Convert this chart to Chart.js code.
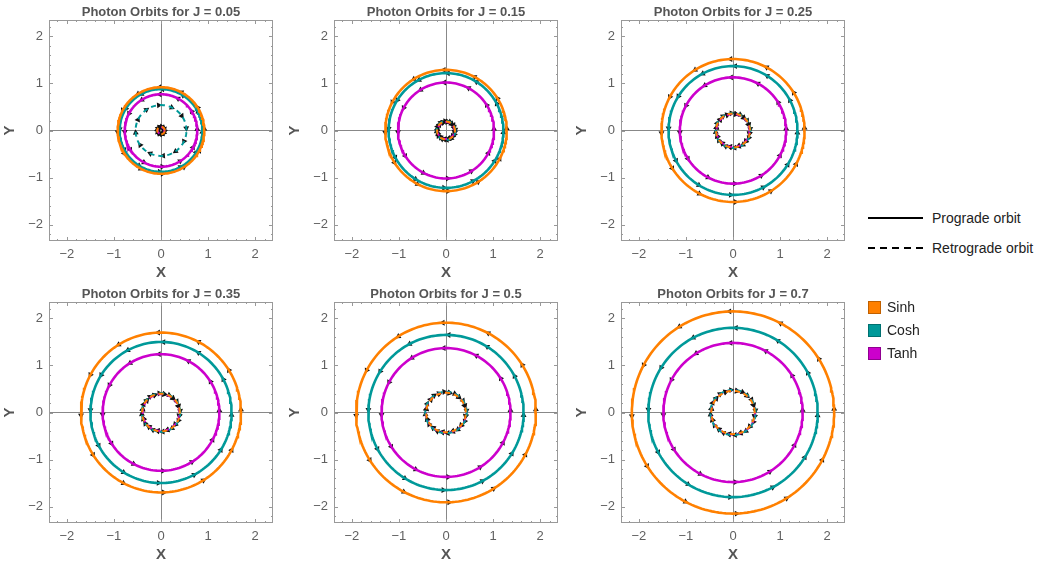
<!DOCTYPE html>
<html>
<head>
<meta charset="utf-8">
<script src="https://cdn.jsdelivr.net/npm/chart.js@4.4.0/dist/chart.umd.min.js"></script>
<style>
body { margin: 0; background: #fff; width: 1042px; height: 571px; position: relative; overflow: hidden; font-family: "Liberation Sans", Arial, sans-serif; }
canvas { position: absolute; }
.leg { position: absolute; font-size: 14px; color: #222; line-height: 16px; }
.sw { position: absolute; width: 11px; height: 11px; }
</style>
</head>
<body>
<canvas id="c0" width="280" height="283" style="left:0px;top:0px"></canvas>
<canvas id="c1" width="280" height="283" style="left:285px;top:0px"></canvas>
<canvas id="c2" width="280" height="283" style="left:572px;top:0px"></canvas>
<canvas id="c3" width="280" height="283" style="left:0px;top:282px"></canvas>
<canvas id="c4" width="280" height="283" style="left:285px;top:282px"></canvas>
<canvas id="c5" width="280" height="283" style="left:572px;top:282px"></canvas>

<svg style="position:absolute;left:868px;top:210px" width="60" height="50">
  <line x1="0" y1="8" x2="55" y2="8" stroke="#000" stroke-width="2"/>
  <line x1="0" y1="38" x2="55" y2="38" stroke="#000" stroke-width="2" stroke-dasharray="7,5"/>
</svg>
<div class="leg" style="left:932px;top:210px">Prograde orbit</div>
<div class="leg" style="left:932px;top:240px">Retrograde orbit</div>
<div class="sw" style="left:868px;top:301px;background:#ff8000;border:1px solid #c06000"></div>
<div class="sw" style="left:868px;top:324px;background:#009999;border:1px solid #007070"></div>
<div class="sw" style="left:868px;top:347px;background:#cc00cc;border:1px solid #900090"></div>
<div class="leg" style="left:887px;top:299px">Sinh</div>
<div class="leg" style="left:887px;top:322px">Cosh</div>
<div class="leg" style="left:887px;top:345px">Tanh</div>

<script>
// orbit radii
const jValues = [0.05, 0.15, 0.25, 0.35, 0.5, 0.7];
const sinhPro = [0.92, 1.29, 1.52, 1.70, 1.91, 2.15];
const coshPro = [0.88, 1.22, 1.37, 1.50, 1.65, 1.80];
const tanhPro = [0.77, 1.02, 1.13, 1.24, 1.37, 1.48];
const sinhRetro = [0.08, 0.19, 0.36, 0.40, 0.42, 0.46];
const coshRetro = [0.54, 0.20, 0.37, 0.41, 0.44, 0.48];
const tanhRetro = [0.07, 0.18, 0.35, 0.39, 0.43, 0.47];
const tickValues = [-2, -1, 0, 1, 2];

const ORANGE = '#ff8000', TEAL = '#009999', MAGENTA = '#cc00cc';
const GRAY = '#555';

function circle(r) {
    const pts = [];
    for (let i = 0; i <= 180; i++) {
        const t = i / 180 * 2 * Math.PI;
        pts.push({x: r * Math.cos(t), y: r * Math.sin(t)});
    }
    return pts;
}

// little direction markers along an orbit
function arrowSet(r, prograde, offset) {
    const pts = [], rot = [];
    for (let k = 0; k < 12; k++) {
        const deg = offset + k * 30;
        const t = deg * Math.PI / 180;
        pts.push({x: r * Math.cos(t), y: r * Math.sin(t)});
        rot.push(prograde ? -deg : 180 - deg);
    }
    return {
        data: pts,
        showLine: false,
        pointStyle: 'triangle',
        pointRadius: 3.4,
        pointRotation: rot,
        backgroundColor: '#111',
        borderColor: '#111',
        borderWidth: 0
    };
}

function orbit(r, color, dashed) {
    return {
        data: circle(r),
        showLine: true,
        borderColor: color,
        borderWidth: dashed ? 2 : 2.6,
        borderDash: dashed ? [5, 4] : [],
        pointRadius: 0,
        fill: false
    };
}

const framePlugin = {
    id: 'frame',
    afterDraw(chart) {
        const ctx = chart.ctx;
        const a = chart.chartArea;
        const xs = chart.scales.x, ys = chart.scales.y;
        ctx.save();
        ctx.strokeStyle = '#999';
        ctx.lineWidth = 1;
        ctx.strokeRect(a.left + 0.5, a.top + 0.5, a.right - a.left - 1, a.bottom - a.top - 1);
        ctx.beginPath();
        for (let k = -11; k <= 11; k++) {
            const v = k * 0.2;
            const len = k % 5 === 0 ? 4 : 2;
            const px = Math.round(xs.getPixelForValue(v)) + 0.5;
            ctx.moveTo(px, a.bottom); ctx.lineTo(px, a.bottom - len);
            ctx.moveTo(px, a.top); ctx.lineTo(px, a.top + len);
            const py = Math.round(ys.getPixelForValue(v)) + 0.5;
            ctx.moveTo(a.left, py); ctx.lineTo(a.left + len, py);
            ctx.moveTo(a.right, py); ctx.lineTo(a.right - len, py);
        }
        ctx.stroke();
        ctx.fillStyle = GRAY;
        ctx.font = 'bold 13px "Liberation Sans", Arial, sans-serif';
        ctx.textAlign = 'center';
        ctx.textBaseline = 'middle';
        ctx.fillText(chart.options.plugins.frame.text, (a.left + a.right) / 2, 12);
        ctx.restore();
    }
};

function axis(min, max, title, fitKey, fitSize, titlePad) {
    return {
        type: 'linear',
        min: min,
        max: max,
        afterBuildTicks: s => { s.ticks = tickValues.map(v => ({value: v})); },
        afterFit: s => { s[fitKey] = fitSize; },
        grid: {
            drawTicks: false,
            color: c => (c.tick && c.tick.value === 0) ? '#888' : 'rgba(0,0,0,0)',
            lineWidth: 1
        },
        border: {display: false},
        ticks: {
            padding: 6,
            color: '#606060',
            font: {family: '"Liberation Sans", Arial, sans-serif', size: 13},
            callback: v => String(v).replace('-', '\u2212')
        },
        title: {
            display: true,
            text: title,
            color: GRAY,
            padding: titlePad,
            font: {family: '"Liberation Sans", Arial, sans-serif', size: 15, weight: 'bold', lineHeight: 1}
        }
    };
}

jValues.forEach((j, i) => {
    const datasets = [
        orbit(sinhPro[i], ORANGE, false),
        orbit(coshPro[i], TEAL, false),
        orbit(tanhPro[i], MAGENTA, false),
        orbit(sinhRetro[i], ORANGE, true),
        orbit(coshRetro[i], TEAL, true),
        orbit(tanhRetro[i], MAGENTA, true),
        arrowSet(sinhPro[i], true, 92),
        arrowSet(coshPro[i], true, 88),
        arrowSet(tanhPro[i], true, 92),
        arrowSet(sinhRetro[i], false, 80),
        arrowSet(coshRetro[i], false, 95),
        arrowSet(tanhRetro[i], false, 110)
    ];
    new Chart(document.getElementById('c' + i), {
        type: 'scatter',
        data: {datasets: datasets},
        options: {
            responsive: false,
            animation: false,
            layout: {padding: {top: 20, right: 7, left: 0, bottom: 0}},
            plugins: {
                legend: {display: false},
                tooltip: {enabled: false},
                frame: {text: 'Photon Orbits for J = ' + j}
            },
            scales: {
                x: axis(-2.38, 2.38, 'X', 'height', 42, {top: 0, bottom: 3}),
                y: axis(-2.35, 2.35, 'Y', 'width', 49, {top: 2, bottom: 0})
            }
        },
        plugins: [framePlugin]
    });
});
</script>
</body>
</html>
